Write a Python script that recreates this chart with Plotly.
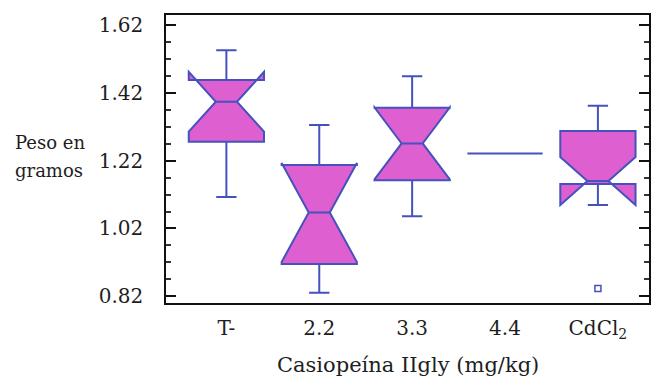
import plotly.graph_objects as go

categories = ["T-", "2.2", "3.3", "4.4", "CdCl<sub>2</sub>"]
q1 = [1.276, 0.915, 1.162, 1.241, 1.151]
median = [1.394, 1.067, 1.271, 1.241, 1.160]
q3 = [1.458, 1.207, 1.376, 1.241, 1.308]
lowerfence = [1.113, 0.830, 1.056, 1.241, 1.123]
upperfence = [1.546, 1.325, 1.469, 1.241, 1.382]
notchspan = [0.088, 0.146, 0.106, 0.0, 0.071]

outlier_cats = ["CdCl<sub>2</sub>"]
outlier_vals = [0.843]

y_tick0 = 0.82
y_dtick = 0.2

W, H = 656, 385
L, R, T, B = 166, 5, 15, 82
PW, PH = W - L - R, H - T - B

FONT = "DejaVu Serif"
TXT = "#1e1e1e"
LINE = "#4552bd"
FILL = "rgb(222,96,208)"

fig = go.Figure()
fig.add_trace(go.Box(
    x=categories, q1=q1, median=median, q3=q3,
    lowerfence=lowerfence, upperfence=upperfence, notchspan=notchspan,
    notched=True, notchwidth=0.36, width=0.81, whiskerwidth=0.27,
    fillcolor=FILL, line=dict(color=LINE, width=2),
    boxpoints=False, hoverinfo="skip", showlegend=False,
))
fig.add_trace(go.Scatter(
    x=outlier_cats, y=outlier_vals, mode="markers",
    marker=dict(symbol="square-open", size=6, color=LINE, line=dict(width=1.5, color=LINE)),
    showlegend=False, hoverinfo="skip",
))

fig.update_layout(
    width=W, height=H,
    margin=dict(l=L, r=R, t=T, b=B),
    paper_bgcolor="white", plot_bgcolor="white",
    font=dict(family=FONT, size=20, color=TXT),
    xaxis=dict(
        type="category", categoryorder="array", categoryarray=categories,
        range=[-0.65, 4.55], showgrid=False, zeroline=False,
        showline=True, linecolor="#111", linewidth=2, mirror=True,
        ticks="", ticklabelstandoff=6,
        tickfont=dict(family=FONT, size=20, color=TXT),
    ),
    yaxis=dict(
        range=[0.80, 1.65], tickmode="linear", tick0=y_tick0, dtick=y_dtick,
        tickformat=".2f", ticksuffix="\u00a0\u00a0\u2009",
        showgrid=False, zeroline=False,
        showline=True, linecolor="#111", linewidth=2, mirror="allticks",
        ticks="inside", ticklen=10, tickwidth=2, tickcolor="#111",
        minor=dict(dtick=0.05, tick0=y_tick0, ticks="inside", ticklen=5,
                   tickwidth=1.5, tickcolor="#333", showgrid=False),
        tickfont=dict(family=FONT, size=20, color=TXT),
    ),
    annotations=[
        dict(text="Peso en", xref="paper", yref="paper",
             x=(12 - L) / PW, y=(H - B - 142.5) / PH, xanchor="left", yanchor="middle",
             align="left", showarrow=False, font=dict(family=FONT, size=18, color=TXT)),
        dict(text="gramos", xref="paper", yref="paper",
             x=(12 - L) / PW, y=(H - B - 170.5) / PH, xanchor="left", yanchor="middle",
             align="left", showarrow=False, font=dict(family=FONT, size=18, color=TXT)),
        dict(text="Casiopeína IIgly (mg/kg)", xref="paper", yref="paper",
             x=0.5, y=(H - B - 365) / PH, xanchor="center", yanchor="middle",
             showarrow=False, font=dict(family=FONT, size=21, color=TXT)),
    ],
)

fig.write_html("out.html")
